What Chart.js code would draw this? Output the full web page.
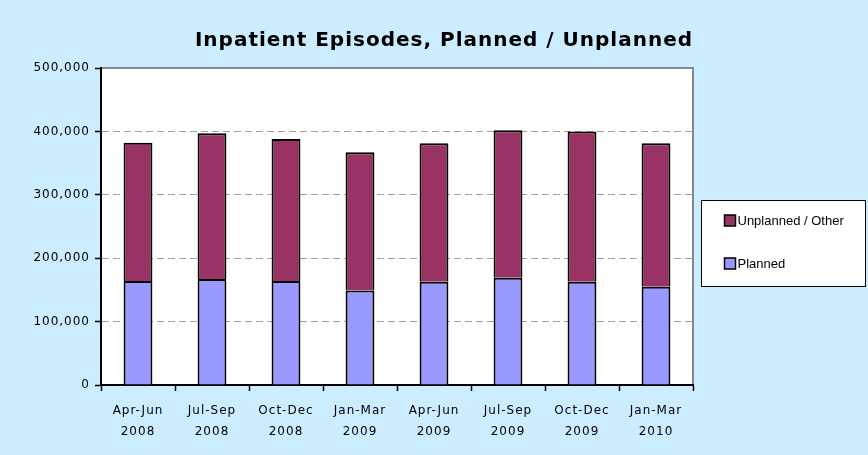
<!DOCTYPE html>
<html>
<head>
<meta charset="utf-8">
<script src="https://cdn.jsdelivr.net/npm/chart.js@4"></script>
<style>
  html, body { margin: 0; padding: 0; background: #ccecff; }
  #wrap { width: 868px; height: 455px; }
</style>
</head>
<body>
<div id="wrap"><canvas id="episodesChart" width="868" height="455"></canvas></div>
<script>
// Data
const quarters = [
    ['Apr-Jun', '2008'], ['Jul-Sep', '2008'], ['Oct-Dec', '2008'], ['Jan-Mar', '2009'],
    ['Apr-Jun', '2009'], ['Jul-Sep', '2009'], ['Oct-Dec', '2009'], ['Jan-Mar', '2010']
];
const planned = [164000, 167000, 164000, 149000, 163000, 169000, 163000, 155000];
const unplanned = [218000, 230000, 224000, 218000, 218500, 233000, 237000, 226500];
const yTicks = [0, 100000, 200000, 300000, 400000, 500000];
const chartTitle = 'Inpatient Episodes, Planned / Unplanned';

// plot area background, title and boxed legend
const decorations = {
    id: 'decorations',
    beforeUpdate(chart) {
        chart.ctx.letterSpacing = '1px';
    },
    beforeDraw(chart) {
        const ctx = chart.ctx;
        const a = chart.chartArea;
        ctx.letterSpacing = '1px';
        ctx.save();
        ctx.fillStyle = '#fff';
        ctx.fillRect(a.left, a.top, a.right - a.left, a.bottom - a.top);
        ctx.strokeStyle = '#888';
        ctx.lineWidth = 2;
        ctx.beginPath();
        ctx.moveTo(a.left, a.top);
        ctx.lineTo(a.right, a.top);
        ctx.lineTo(a.right, a.bottom);
        ctx.stroke();

        ctx.fillStyle = '#000';
        ctx.font = 'bold 20px "DejaVu Sans"';
        ctx.textAlign = 'center';
        ctx.textBaseline = 'middle';
        ctx.fillText(chartTitle, 444, 41);
        ctx.restore();
    },
    afterDraw(chart) {
        const ctx = chart.ctx;
        const a = chart.chartArea;
        const bx = a.right + 8.5, by = 200.5, bw = 164, bh = 86;
        ctx.save();
        ctx.letterSpacing = '0px';
        ctx.fillStyle = '#fff';
        ctx.fillRect(bx, by, bw, bh);
        ctx.strokeStyle = '#000';
        ctx.lineWidth = 1;
        ctx.strokeRect(bx, by, bw, bh);
        ctx.font = '13px "Liberation Sans"';
        ctx.textBaseline = 'middle';
        const items = chart.data.datasets.slice().reverse();
        items.forEach((ds, i) => {
            const cy = 221 + i * 43;
            ctx.fillStyle = ds.backgroundColor;
            ctx.fillRect(bx + 23, cy - 6, 11, 11);
            ctx.lineWidth = 1.5;
            ctx.strokeStyle = '#000';
            ctx.strokeRect(bx + 23, cy - 6, 11, 11);
            ctx.fillStyle = '#000';
            ctx.fillText(ds.label, bx + 36, cy);
        });
        ctx.restore();
    }
};

new Chart(document.getElementById('episodesChart'), {
    type: 'bar',
    data: {
        labels: quarters,
        datasets: [{
            label: 'Planned',
            data: planned,
            backgroundColor: '#9999ff',
            borderColor: '#000',
            borderWidth: 2,
            barPercentage: 0.39,
            categoryPercentage: 1
        }, {
            label: 'Unplanned / Other',
            data: unplanned,
            backgroundColor: '#993366',
            borderColor: '#000',
            borderWidth: 2,
            barPercentage: 0.39,
            categoryPercentage: 1
        }]
    },
    options: {
        responsive: false,
        animation: false,
        layout: { padding: { top: 68, right: 175, left: 0, bottom: 0 } },
        plugins: {
            legend: { display: false },
            title: { display: false },
            tooltip: { enabled: false }
        },
        scales: {
            x: {
                stacked: true,
                afterFit(scale) { scale.height = 70; },
                border: { color: '#000', width: 2 },
                grid: { drawOnChartArea: false, tickLength: 6, tickColor: '#000', tickWidth: 1.5 },
                ticks: {
                    color: '#000',
                    padding: 9,
                    maxRotation: 0,
                    autoSkip: false,
                    font: { family: 'DejaVu Sans', size: 12, lineHeight: 1.75 }
                }
            },
            y: {
                stacked: true,
                min: 0,
                max: 500000,
                afterFit(scale) { scale.width = 101; },
                afterBuildTicks(scale) { scale.ticks = yTicks.map(v => ({ value: v })); },
                border: { color: '#000', width: 2, dash: [7, 4] },
                grid: {
                    color: c => (c.tick && (c.tick.value === 0 || c.tick.value === 500000)) ? 'rgba(0,0,0,0)' : '#a0a0a0',
                    lineWidth: 1,
                    tickLength: 6,
                    tickColor: '#000',
                    tickWidth: 1.5,
                    tickBorderDash: []
                },
                ticks: {
                    color: '#000',
                    padding: 5,
                    font: { family: 'DejaVu Sans', size: 12 },
                    callback: v => v.toLocaleString('en-US')
                }
            }
        }
    },
    plugins: [decorations]
});
</script>
</body>
</html>
